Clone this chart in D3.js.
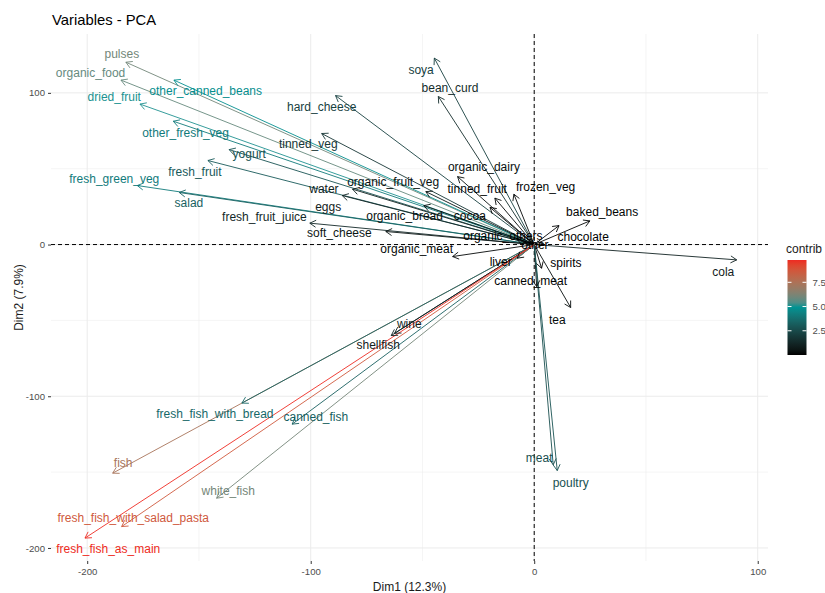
<!DOCTYPE html>
<html lang="en">
<head>
<meta charset="UTF-8">
<title>Variables - PCA</title>
<script src="https://d3js.org/d3.v7.min.js"></script>
<style>
    body { margin: 0; background: #fff; }
    svg text { font-family: "Liberation Sans", Arial, sans-serif; }
    .tick text { fill: #4d4d4d; font-size: 9.6px; }
    .tick line { stroke: #333; }
    .grid-major { stroke: #ebebeb; stroke-width: 1; }
    .grid-minor { stroke: #ebebeb; stroke-width: 0.5; }
    .var-label { font-size: 12px; text-anchor: middle; }
    .axis-title { font-size: 12px; fill: #1a1a1a; }
</style>
</head>
<body>
<svg width="825" height="593"></svg>
<script>
// PCA variable coordinates (Dim1, Dim2), contributions and label anchors
const variables = ["pulses", "organic_food", "other_canned_beans", "dried_fruit", "other_fresh_veg",
    "yogurt", "fresh_fruit", "fresh_green_veg", "salad", "fresh_fruit_juice", "hard_cheese", "tinned_veg",
    "soya", "bean_curd", "organic_dairy", "tinned_fruit", "frozen_veg", "organic_fruit_veg", "water", "eggs",
    "organic_bread", "cocoa", "soft_cheese", "organic_meat", "organic_others", "baked_beans", "chocolate",
    "cola", "other", "liver", "spirits", "canned_meat", "tea", "meat", "poultry", "wine", "shellfish",
    "fish", "fresh_fish_with_bread", "canned_fish", "white_fish", "fresh_fish_with_salad_pasta",
    "fresh_fish_as_main"];
const dim1 = [-182.7, -184.9, -161.2, -176.4, -161.5, -136.5, -146.0, -177.6, -158.8, -100.4, -88.9, -95.1,
    -44.7, -42.9, -34.3, -17.6, -9.1, -48.5, -81.3, -85.9, -49.4, -19.8, -66.4, -36.5, -8.0, 24.9, 11.1,
    90.6, 4.0, -7.6, 3.3, 1.1, 16.3, 8.5, 10.3, -62.5, -64.0, -188.6, -130.8, -108.3, -142.1, -184.6, -201.0];
const dim2 = [120.2, 108.4, 108.4, 92.6, 81.3, 62.6, 55.4, 38.9, 34.3, 14.1, 98.2, 73.2,
    122.9, 97.6, 44.8, 30.6, 33.2, 34.9, 36.5, 32.3, 25.7, 24.5, 8.6, -7.9, 4.0, 15.6, 12.5,
    -10.1, 0.3, -9.0, -15.6, -27.7, -41.5, -145.2, -149.0, -58.5, -60.0, -150.7, -104.5, -118.4, -167.2, -185.9, -193.5];
const contrib = [6.02, 5.78, 4.75, 5.00, 4.12, 2.84, 3.07, 4.16, 3.32, 1.29, 2.21, 1.81,
    2.15, 1.43, 0.40, 0.16, 0.15, 0.45, 1.00, 1.06, 0.39, 0.12, 0.56, 0.18, 0.01, 0.11, 0.04,
    1.05, 0.002, 0.02, 0.03, 0.09, 0.25, 2.66, 2.81, 0.92, 0.97, 7.34, 3.53, 3.24, 6.06, 8.64, 9.80];
const labelDim1 = [-184.5, -198.5, -147.0, -187.9, -156.0, -127.5, -151.8, -187.9, -154.5, -120.7, -95.1, -101.1,
    -50.6, -37.7, -22.5, -25.5, 5.1, -63.1, -94.1, -92.2, -58.0, -28.8, -87.2, -52.6, -14.0, 30.4, 21.9,
    84.6, 0.3, -15.0, 14.2, -1.6, 10.3, 2.2, 16.3, -55.9, -69.8, -183.9, -142.9, -97.7, -136.9, -179.4, -190.6];
const labelDim2 = [125.7, 113.4, 101.5, 97.2, 73.6, 60.0, 47.9, 43.3, 27.3, 18.5, 91.0, 66.4,
    115.2, 103.5, 51.0, 36.5, 37.8, 41.5, 36.7, 25.0, 18.9, 18.9, 7.5, -3.0, 5.7, 21.4, 5.3,
    -17.8, -0.2, -11.2, -12.3, -23.9, -49.6, -140.8, -157.3, -52.5, -66.1, -144.1, -111.6, -113.8, -162.2, -180.4, -200.8];

const xTicks = [-200, -100, 0, 100];
const yTicks = [-200, -100, 0, 100];
const xMinor = [-150, -50, 50];
const yMinor = [-150, -50, 50];
const legendTicks = [2.5, 5.0, 7.5];

const data = variables.map((name, i) => ({
    name: name, x: dim1[i], y: dim2[i], contrib: contrib[i], lx: labelDim1[i], ly: labelDim2[i]
}));

const svg = d3.select("svg");
const panel = { left: 51, right: 768, top: 34, bottom: 561 };

const x = d3.scaleLinear().domain([-216.2, 104.6]).range([panel.left, panel.right]);
const y = d3.scaleLinear().domain([-208.6, 138.8]).range([panel.bottom, panel.top]);

const cExtent = d3.extent(contrib);
const color = d3.scaleLinear()
    .domain([cExtent[0], (cExtent[0] + cExtent[1]) / 2, cExtent[1]])
    .range(["#000000", "#009393", "#ee2b22"])
    .interpolate(d3.interpolateLab);

// grid
const grid = svg.append("g");
grid.selectAll(".vminor").data(xMinor).enter().append("line")
    .attr("class", "grid-minor")
    .attr("x1", d => x(d)).attr("x2", d => x(d))
    .attr("y1", panel.top).attr("y2", panel.bottom);
grid.selectAll(".hminor").data(yMinor).enter().append("line")
    .attr("class", "grid-minor")
    .attr("y1", d => y(d)).attr("y2", d => y(d))
    .attr("x1", panel.left).attr("x2", panel.right);
grid.selectAll(".vmajor").data(xTicks).enter().append("line")
    .attr("class", "grid-major")
    .attr("x1", d => x(d)).attr("x2", d => x(d))
    .attr("y1", panel.top).attr("y2", panel.bottom);
grid.selectAll(".hmajor").data(yTicks).enter().append("line")
    .attr("class", "grid-major")
    .attr("y1", d => y(d)).attr("y2", d => y(d))
    .attr("x1", panel.left).attr("x2", panel.right);

// axes
const xAxis = svg.append("g")
    .attr("transform", `translate(0,${panel.bottom})`)
    .call(d3.axisBottom(x).tickValues(xTicks).tickSize(3).tickPadding(4).tickFormat(d => String(d)));
xAxis.select(".domain").remove();
const yAxis = svg.append("g")
    .attr("transform", `translate(${panel.left},0)`)
    .call(d3.axisLeft(y).tickValues(yTicks).tickSize(3).tickPadding(3).tickFormat(d => String(d)));
yAxis.select(".domain").remove();
svg.selectAll(".tick text").attr("font-family", null);

// reference lines
svg.append("line")
    .attr("x1", panel.left).attr("x2", panel.right)
    .attr("y1", y(0)).attr("y2", y(0))
    .attr("stroke", "#000").attr("stroke-width", 1).attr("stroke-dasharray", "4,3");
svg.append("line")
    .attr("x1", x(0)).attr("x2", x(0))
    .attr("y1", panel.top).attr("y2", panel.bottom)
    .attr("stroke", "#000").attr("stroke-width", 1).attr("stroke-dasharray", "4,3");

// arrows
const headLen = 7, headAng = Math.PI / 6;
function headPath(d) {
    const x0 = x(0), y0 = y(0), x1 = x(d.x), y1 = y(d.y);
    const a = Math.atan2(y1 - y0, x1 - x0);
    const p1 = [x1 - headLen * Math.cos(a - headAng), y1 - headLen * Math.sin(a - headAng)];
    const p2 = [x1 - headLen * Math.cos(a + headAng), y1 - headLen * Math.sin(a + headAng)];
    return `M${p1[0]},${p1[1]}L${x1},${y1}L${p2[0]},${p2[1]}`;
}
const arrows = svg.append("g").attr("fill", "none").attr("stroke-width", 0.9);
arrows.selectAll("line").data(data).enter().append("line")
    .attr("x1", x(0)).attr("y1", y(0))
    .attr("x2", d => x(d.x)).attr("y2", d => y(d.y))
    .attr("stroke", d => color(d.contrib));
arrows.selectAll("path").data(data).enter().append("path")
    .attr("d", headPath)
    .attr("stroke", d => color(d.contrib));

// labels
svg.append("g").selectAll("text").data(data).enter().append("text")
    .attr("class", "var-label")
    .attr("x", d => x(d.lx))
    .attr("y", d => y(d.ly))
    .attr("dy", "0.35em")
    .attr("fill", d => color(d.contrib))
    .text(d => d.name);

// titles
svg.append("text")
    .attr("x", 52).attr("y", 25)
    .attr("font-size", "14.8px").attr("fill", "#000")
    .text("Variables - PCA");
svg.append("text")
    .attr("class", "axis-title")
    .attr("x", (panel.left + panel.right) / 2).attr("y", 591)
    .attr("text-anchor", "middle")
    .text("Dim1 (12.3%)");
svg.append("text")
    .attr("class", "axis-title")
    .attr("transform", `translate(23,${(panel.top + panel.bottom) / 2}) rotate(-90)`)
    .attr("text-anchor", "middle")
    .text("Dim2 (7.9%)");

// legend colourbar
const legend = { x: 787.5, w: 19, top: 260, bottom: 355 };
const ly = d3.scaleLinear().domain(cExtent).range([legend.bottom, legend.top]);
const grad = svg.append("defs").append("linearGradient")
    .attr("id", "cbar").attr("x1", 0).attr("x2", 0).attr("y1", 1).attr("y2", 0);
d3.range(0, 1.0001, 0.05).forEach(t => {
    grad.append("stop")
        .attr("offset", t)
        .attr("stop-color", color(cExtent[0] + t * (cExtent[1] - cExtent[0])));
});
svg.append("rect")
    .attr("x", legend.x).attr("y", legend.top)
    .attr("width", legend.w).attr("height", legend.bottom - legend.top)
    .attr("fill", "url(#cbar)");
const lt = svg.append("g");
legendTicks.forEach(v => {
    lt.append("line").attr("x1", legend.x).attr("x2", legend.x + 4)
        .attr("y1", ly(v)).attr("y2", ly(v)).attr("stroke", "#fff").attr("stroke-width", 1);
    lt.append("line").attr("x1", legend.x + legend.w - 4).attr("x2", legend.x + legend.w)
        .attr("y1", ly(v)).attr("y2", ly(v)).attr("stroke", "#fff").attr("stroke-width", 1);
    lt.append("text").attr("x", legend.x + legend.w + 6).attr("y", ly(v)).attr("dy", "0.35em")
        .attr("font-size", "9.6px").attr("fill", "#4d4d4d")
        .text(v.toFixed(1));
});
svg.append("text")
    .attr("x", 786).attr("y", 253)
    .attr("font-size", "12px").attr("fill", "#1a1a1a")
    .text("contrib");
</script>
</body>
</html>
